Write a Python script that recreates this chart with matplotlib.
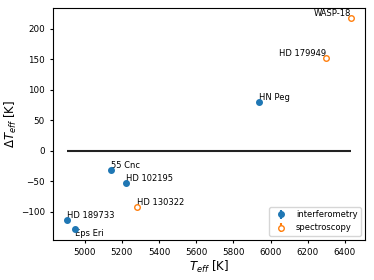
import matplotlib
matplotlib.use("Agg")
import matplotlib.pyplot as plt
import numpy as np

# interferometry targets
int_names = ["HN Peg", "55 Cnc", "HD 102195", "HD 189733", "Eps Eri"]
int_teff = [5937, 5140, 5221, 4907, 4946]
int_dteff = [80, -32, -53, -114, -129]

# spectroscopy targets
spec_names = ["WASP-18", "HD 179949", "HD 130322"]
spec_teff = [6432, 6298, 5282]
spec_dteff = [217, 152, -93]

# label alignment per star
label_align = {
    "WASP-18": ("right", "bottom"),
    "HD 179949": ("right", "bottom"),
    "Eps Eri": ("left", "top"),
}

fig, ax = plt.subplots(figsize=(3.74, 2.8), dpi=100)

all_teff = int_teff + spec_teff
ax.hlines(0, min(all_teff), max(all_teff), color="#222222", lw=1.5, zorder=1)

ax.errorbar(int_teff, int_dteff, yerr=np.zeros(len(int_teff)), fmt="o",
            color="#1f77b4", ms=4, label="interferometry", zorder=3)
ax.errorbar(spec_teff, spec_dteff, yerr=np.zeros(len(spec_teff)), fmt="o",
            color="#ff7f0e", mfc="white", ms=4, label="spectroscopy", zorder=3)

for names, xs, ys in [(int_names, int_teff, int_dteff),
                      (spec_names, spec_teff, spec_dteff)]:
    for n, x, y in zip(names, xs, ys):
        ha, va = label_align.get(n, ("left", "bottom"))
        ax.text(x, y, n, ha=ha, va=va, fontsize=6)

ax.set_xticks([5000, 5200, 5400, 5600, 5800, 6000, 6200, 6400])
ax.set_yticks([-100, -50, 0, 50, 100, 150, 200])
ax.tick_params(labelsize=6.3, length=2.5)
ax.set_xlabel("$T_{eff}$ [K]", fontsize=8.5, labelpad=1)
ax.set_ylabel(r"$\Delta T_{eff}$ [K]", fontsize=8.5, labelpad=1)
ax.legend(loc="lower right", fontsize=6, handletextpad=0.8)

plt.subplots_adjust(left=0.142, right=0.976, top=0.972, bottom=0.143)
plt.savefig("out.png", dpi=100)
plt.close()
